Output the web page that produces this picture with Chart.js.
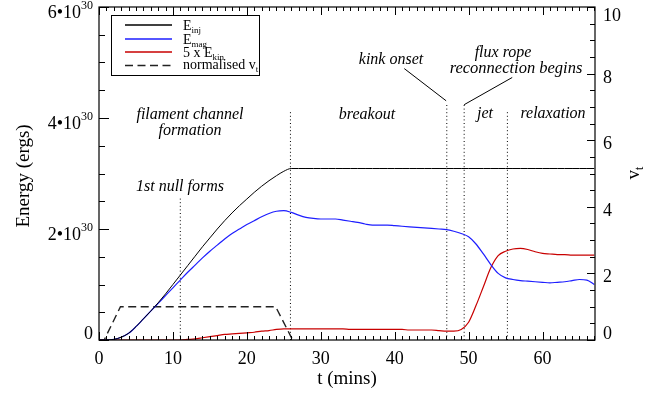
<!DOCTYPE html>
<html><head><meta charset="utf-8">
<script src="https://cdn.jsdelivr.net/npm/chart.js@4/dist/chart.umd.min.js"></script>
<style>html,body{margin:0;padding:0;background:#fff}#wrap{width:668px;height:397px}</style>
</head><body><div id="wrap"><canvas id="c" width="668" height="397"></canvas></div>
<script>
// ---- data (energies in units of 10^30 ergs, time in minutes) ----
const T_E = [0,1,2,3,4,5,6,7,8,9,10,11,12,13,14,15,16,17,18,19,20,21,22,23,24,25,26,27,28,29,30,31,32,33,34,35,36,37,38,39,40,41,42,43,44,45,46,47,48,49,50,51,52,53,54,55,56,57,58,59,60,61,62,63,64,65,66,67];
const E_INJ = [0,0,0.01,0.05,0.12,0.24,0.38,0.52,0.67,0.83,1.0,1.17,1.34,1.51,1.68,1.84,2.0,2.15,2.29,2.42,2.54,2.66,2.77,2.87,2.96,3.04,3.09,3.09,3.09,3.09,3.09,3.09,3.09,3.09,3.09,3.09,3.09,3.09,3.09,3.09,3.09,3.09,3.09,3.09,3.09,3.09,3.09,3.09,3.09,3.09,3.09,3.09,3.09,3.09,3.09,3.09,3.09,3.09,3.09,3.09,3.09,3.09,3.09,3.09,3.09,3.09,3.09,3.09];
const E_MAG = [0,0,0.01,0.05,0.12,0.24,0.38,0.52,0.66,0.8,0.94,1.08,1.22,1.35,1.48,1.6,1.71,1.82,1.92,2.0,2.08,2.15,2.22,2.28,2.32,2.33,2.30,2.25,2.21,2.19,2.18,2.18,2.18,2.16,2.14,2.12,2.09,2.07,2.07,2.07,2.06,2.05,2.04,2.03,2.02,2.01,2.0,1.99,1.96,1.92,1.86,1.73,1.55,1.36,1.2,1.12,1.09,1.07,1.06,1.05,1.04,1.03,1.04,1.05,1.07,1.09,1.08,1.0];
const E_KIN5 = [0,0,0,0,0,0,0,0,0,0,0,0,0.01,0.02,0.04,0.06,0.08,0.1,0.11,0.12,0.13,0.14,0.16,0.17,0.19,0.2,0.2,0.2,0.2,0.2,0.2,0.2,0.2,0.2,0.19,0.19,0.19,0.19,0.19,0.19,0.19,0.19,0.18,0.18,0.18,0.18,0.17,0.16,0.16,0.19,0.32,0.62,0.96,1.3,1.52,1.6,1.64,1.65,1.63,1.59,1.56,1.55,1.54,1.54,1.53,1.53,1.53,1.53];
const T_V = [0,0.7,2.9,23.9,26.2];
const V_T = [0,0,1,1,0];
const EVENT_T = [11.0,25.9,47.05,49.4,55.25];
const EVENT_TOP = [2.58,4.15,4.28,4.24,4.15];
const LEADER_T = [[41.3,46.96],[55.9,49.4]];
const LEADER_E = [[4.89,4.31],[4.73,4.24]];
const X_TICKS = [0,10,20,30,40,50,60];
const E_TICKS = [0,2,4,6];
const V_TICKS = [0,2,4,6,8,10];

const FONT = '"Liberation Serif","Times New Roman",serif';
const pts = (xs, ys) => xs.map((x,i)=>({x:x,y:ys[i]}));

const datasets = [
  {data:pts(T_E,E_INJ),borderColor:'#000',borderWidth:1,yAxisID:'y'},
  {data:pts(T_E,E_MAG),borderColor:'#1e1eff',borderWidth:1.2,yAxisID:'y'},
  {data:pts(T_E,E_KIN5),borderColor:'#c80000',borderWidth:1.2,yAxisID:'y'},
  {data:pts(T_V,V_T),borderColor:'#222',borderWidth:1.4,borderDash:[8,4.5],yAxisID:'yR',cubicInterpolationMode:'default',tension:0}
];
EVENT_T.forEach((t,i)=>datasets.push({data:[{x:t,y:0},{x:t,y:EVENT_TOP[i]}],borderColor:'#000',borderWidth:1,borderDash:[1,2.6],yAxisID:'y',tension:0}));
LEADER_T.forEach((ts,i)=>datasets.push({data:pts(ts,LEADER_E[i]),borderColor:'#000',borderWidth:1,yAxisID:'y',tension:0}));
datasets.forEach(d=>{d.pointRadius=0;d.fill=false;if(d.tension===undefined){d.cubicInterpolationMode='monotone';}});

function rich(ctx, segs, x, y, align, style){
  style = style||''; let w=0;
  segs.forEach(s=>{ctx.font=style+s.size+'px '+FONT; s.w=ctx.measureText(s.t).width; w+=s.w;});
  let cx = align==='center'? x-w/2 : align==='right'? x-w : x;
  ctx.textAlign='left'; ctx.textBaseline='alphabetic';
  segs.forEach(s=>{ctx.font=style+s.size+'px '+FONT; ctx.fillText(s.t,cx,y+(s.dy||0)); cx+=s.w;});
}

const deco = {
  id:'deco',
  afterDraw(chart){
    const ctx=chart.ctx, a=chart.chartArea, X=chart.scales.x, Y=chart.scales.y, R=chart.scales.yR;
    ctx.save();
    ctx.strokeStyle='#000'; ctx.fillStyle='#000'; ctx.lineWidth=1.2;
    ctx.strokeRect(a.left,a.top,a.right-a.left,a.bottom-a.top);
    ctx.lineWidth=1;
    ctx.beginPath();
    for(let t=0;t<=67;t++){
      const px=Math.round(X.getPixelForValue(t))+0.5, L=(t%10===0)?8:4;
      ctx.moveTo(px,a.bottom); ctx.lineTo(px,a.bottom-L);
      ctx.moveTo(px,a.top); ctx.lineTo(px,a.top+L);
    }
    for(let e=0;e<=6;e+=0.5){
      const py=Math.round(Y.getPixelForValue(e))+0.5, L=(e%2===0)?10:6;
      ctx.moveTo(a.left,py); ctx.lineTo(a.left+L,py);
    }
    for(let v=0;v<=10;v+=0.5){
      const py=Math.round(R.getPixelForValue(v))+0.5, L=(v%2===0)?8:5;
      ctx.moveTo(a.right,py); ctx.lineTo(a.right-L,py);
    }
    ctx.stroke();
    // x tick labels
    X_TICKS.forEach(t=>rich(ctx,[{t:String(t),size:18}],X.getPixelForValue(t),a.bottom+24,'center'));
    // left tick labels
    E_TICKS.forEach(e=>{
      const py=Y.getPixelForValue(e);
      if(e===0){ rich(ctx,[{t:'0',size:18}],93,py-1,'right'); return; }
      ctx.font='12px '+FONT; const sw=ctx.measureText('30').width;
      rich(ctx,[{t:'30',size:12}],93,py+2,'right');
      rich(ctx,[{t:e+'\u202210',size:18}],93-sw,py+11,'right');
    });
    // right tick labels
    V_TICKS.forEach(v=>{
      const py=R.getPixelForValue(v);
      const off = v===0? -1 : v===10 ? 13.5 : 9;
      rich(ctx,[{t:String(v),size:18}],603,py+off,'left');
    });
    // axis titles
    rich(ctx,[{t:'t (mins)',size:19}],347,384,'center');
    ctx.save(); ctx.translate(29,176); ctx.rotate(-Math.PI/2);
    rich(ctx,[{t:'Energy (ergs)',size:19}],0,0,'center'); ctx.restore();
    ctx.save(); ctx.translate(639,173); ctx.rotate(-Math.PI/2);
    rich(ctx,[{t:'v',size:19},{t:'t',size:12,dy:4}],0,0,'center'); ctx.restore();
    // annotations
    const it='italic ';
    rich(ctx,[{t:'filament channel',size:16}],190,119,'center',it);
    rich(ctx,[{t:'formation',size:16}],190,135,'center',it);
    rich(ctx,[{t:'1st null forms',size:16}],180,191,'center',it);
    rich(ctx,[{t:'breakout',size:16}],367,119,'center',it);
    rich(ctx,[{t:'kink onset',size:16}],391,64,'center',it);
    rich(ctx,[{t:'flux rope',size:16}],503,57,'center',it);
    rich(ctx,[{t:'reconnection begins',size:16.5}],516,73,'center',it);
    rich(ctx,[{t:'jet',size:16}],485,118,'center',it);
    rich(ctx,[{t:'relaxation',size:16}],553,118,'center',it);
    // legend
    ctx.lineWidth=1; ctx.strokeStyle='#000';
    ctx.strokeRect(111.5,15.5,148,60);
    const rows=[
      {c:'#000',d:[],y:25,txt:[{t:'E',size:14},{t:'inj',size:9,dy:3}],b:30},
      {c:'#1e1eff',d:[],y:39,txt:[{t:'E',size:14},{t:'mag',size:9,dy:3}],b:43.5},
      {c:'#c80000',d:[],y:52,txt:[{t:'5 x E',size:14},{t:'kin',size:9,dy:3}],b:56.5},
      {c:'#222',d:[8,4.5],y:65.5,txt:[{t:'normalised v',size:14},{t:'t',size:9,dy:3}],b:68.5}
    ];
    rows.forEach(r=>{
      ctx.beginPath(); ctx.strokeStyle=r.c; ctx.lineWidth=1.5; ctx.setLineDash(r.d);
      ctx.moveTo(125,r.y); ctx.lineTo(172,r.y); ctx.stroke(); ctx.setLineDash([]);
      ctx.fillStyle='#000'; rich(ctx,r.txt,183,r.b,'left');
    });
    ctx.restore();
  }
};

new Chart(document.getElementById('c'),{
  type:'line',
  data:{datasets:datasets},
  options:{
    responsive:false, animation:false, parsing:true,
    layout:{padding:{top:7,left:0,right:0,bottom:0}},
    plugins:{legend:{display:false},tooltip:{enabled:false}},
    scales:{
      x:{type:'linear',min:0,max:67.1,grid:{display:false},border:{display:false},ticks:{display:false},afterFit(s){s.height=57;}},
      y:{type:'linear',position:'left',min:0,max:6,grid:{display:false},border:{display:false},ticks:{display:false},afterFit(s){s.width=99;}},
      yR:{type:'linear',position:'right',min:0,max:10,grid:{display:false},border:{display:false},ticks:{display:false},afterFit(s){s.width=73;}}
    }
  },
  plugins:[deco]
});
</script></body></html>
